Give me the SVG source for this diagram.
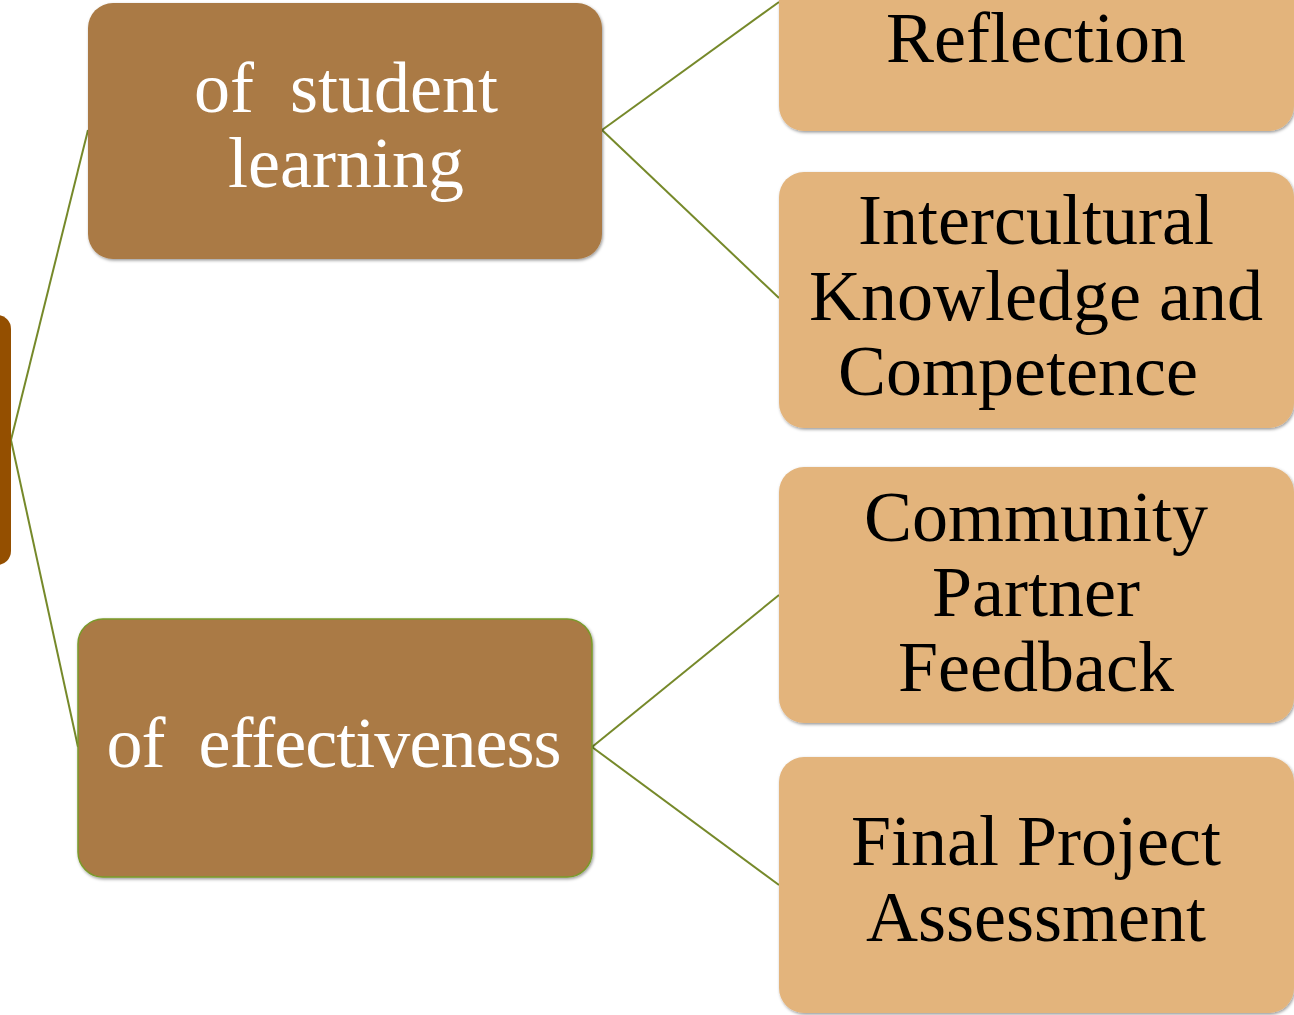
<svg xmlns="http://www.w3.org/2000/svg" width="1294" height="1015" viewBox="0 0 1294 1015">
<defs>
<filter id="sh" x="-5%" y="-5%" width="110%" height="110%">
<feDropShadow dx="1" dy="1.5" stdDeviation="1.5" flood-color="#000" flood-opacity="0.4"/>
</filter>
<style>
.mid{fill:#AA7A44;filter:url(#sh)}
.leaf{fill:#E3B47C;filter:url(#sh)}
.root{fill:#944F00}
.conn{stroke:#76892A;stroke-width:2;fill:none}
.tw{font-family:"Liberation Serif","DejaVu Serif",serif;font-size:72px;fill:#FFFFFF;text-anchor:middle}
.tb{font-family:"Liberation Serif","DejaVu Serif",serif;font-size:72px;fill:#000000;text-anchor:middle}
</style>
</defs>
<rect width="1294" height="1015" fill="#FFFFFF"/>
<g id="connectors">
<line class="conn" x1="11" y1="440" x2="88" y2="130"/>
<line class="conn" x1="11" y1="440" x2="78" y2="747"/>
<line class="conn" x1="602" y1="130" x2="779" y2="2"/>
<line class="conn" x1="602" y1="130" x2="779" y2="298"/>
<line class="conn" x1="592" y1="747" x2="779" y2="595"/>
<line class="conn" x1="592" y1="747" x2="779" y2="885"/>
</g>
<g id="root">
<rect class="root" x="-30" y="315" width="41" height="250" rx="14"/>
</g>
<g id="mid1">
<rect class="mid" x="88" y="3" width="514" height="256" rx="25"/>
<text class="tw" x="346" y="112">of&#160; student</text>
<text class="tw" x="346" y="187">learning</text>
</g>
<g id="mid2">
<rect class="mid" x="78" y="619" width="514" height="258" rx="25" stroke="#7A9A2A" stroke-width="1.5"/>
<text class="tw" x="334" y="767" textLength="455" lengthAdjust="spacing">of&#160; effectiveness</text>
</g>
<g id="leaf1">
<rect class="leaf" x="779" y="-125" width="515" height="256" rx="25"/>
<text class="tb" x="1036" y="62">Reflection</text>
</g>
<g id="leaf2">
<rect class="leaf" x="779" y="172" width="515" height="256" rx="25"/>
<text class="tb" x="1036" y="244">Intercultural</text>
<text class="tb" x="1036" y="320">Knowledge and</text>
<text class="tb" x="1018" y="395">Competence</text>
</g>
<g id="leaf3">
<rect class="leaf" x="779" y="467" width="515" height="256" rx="25"/>
<text class="tb" x="1036" y="541">Community</text>
<text class="tb" x="1036" y="616">Partner</text>
<text class="tb" x="1036" y="691">Feedback</text>
</g>
<g id="leaf4">
<rect class="leaf" x="779" y="757" width="515" height="256" rx="25"/>
<text class="tb" x="1036" y="865">Final Project</text>
<text class="tb" x="1036" y="941">Assessment</text>
</g>
</svg>
